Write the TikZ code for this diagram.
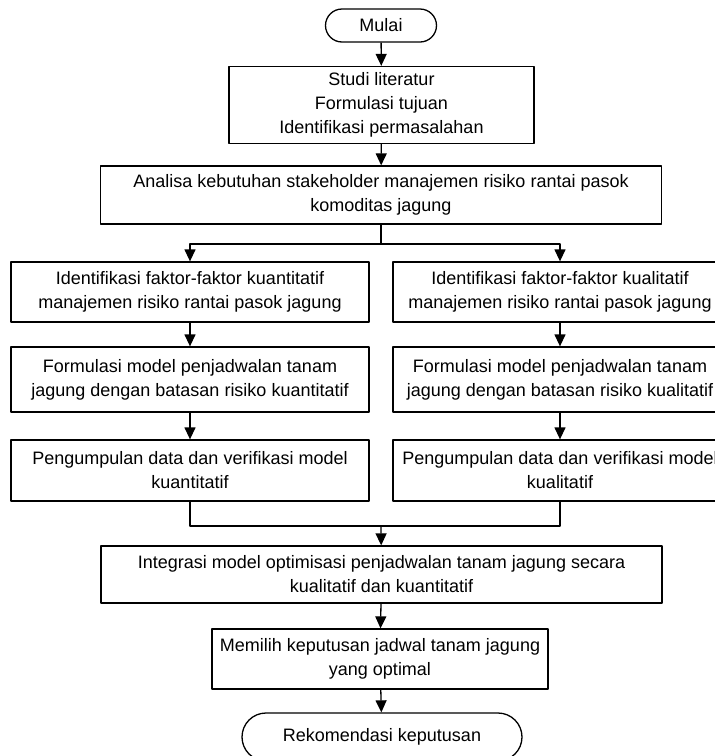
\documentclass[tikz,border=0pt]{standalone}
\usepackage{fontspec}
\setmainfont{Liberation Sans}
\usetikzlibrary{arrows.meta,shapes.misc}
\begin{document}
\begin{tikzpicture}[x=1pt,y=-1pt,line join=round,>={Triangle[length=12pt,width=11pt]},
	line width=1.3pt,
	font=\fontsize{18}{24}\selectfont,
	kotak/.style={draw,rectangle,align=center,inner sep=0pt},
	ujung/.style={draw,rounded rectangle,align=center,inner sep=0pt}]
	\useasboundingbox (0,0) rectangle (715,756);
	\node[ujung,minimum width=111pt,minimum height=33pt] (mulai) at (381,25.5) {Mulai};
	\node[kotak,minimum width=305pt,minimum height=77pt] (studi) at (381.5,105)
	{Studi literatur\\Formulasi tujuan\\Identifikasi permasalahan};
	\node[kotak,minimum width=561pt,minimum height=58pt] (analisa) at (381,195)
	{Analisa kebutuhan stakeholder manajemen risiko rantai pasok\\komoditas jagung};
	\node[kotak,minimum width=358pt,minimum height=60pt] (idkuan) at (190,292)
	{Identifikasi faktor-faktor kuantitatif\\manajemen risiko rantai pasok jagung};
	\node[kotak,minimum width=334pt,minimum height=60pt] (idkual) at (560,292)
	{Identifikasi faktor-faktor kualitatif\\manajemen risiko rantai pasok jagung};
	\node[kotak,minimum width=358pt,minimum height=65pt] (fmkuan) at (190,379.5)
	{Formulasi model penjadwalan tanam\\jagung dengan batasan risiko kuantitatif};
	\node[kotak,minimum width=334pt,minimum height=65pt] (fmkual) at (560,379.5)
	{Formulasi model penjadwalan tanam\\jagung dengan batasan risiko kualitatif};
	\node[kotak,minimum width=358pt,minimum height=61pt] (pdkuan) at (190,470.5)
	{Pengumpulan data dan verifikasi model\\kuantitatif};
	\node[kotak,minimum width=334pt,minimum height=61pt] (pdkual) at (560,470.5)
	{Pengumpulan data dan verifikasi model\\kualitatif};
	\node[kotak,minimum width=561pt,minimum height=57pt] (integ) at (381.5,574.5)
	{Integrasi model optimisasi penjadwalan tanam jagung secara\\kualitatif dan kuantitatif};
	\node[kotak,minimum width=336pt,minimum height=60pt] (pilih) at (380,659)
	{Memilih keputusan jadwal tanam jagung\\yang optimal};
	\node[ujung,minimum width=280pt,minimum height=48pt] (rekom) at (382,737)
	{Rekomendasi keputusan};
	\coordinate (cab) at (381,244);
	\coordinate (gab) at (381,526);
	\draw[->] (mulai)--(studi);
	\draw[->] (studi)--(analisa);
	\draw (analisa)--(cab);
	\draw[->] (cab)-|(idkuan);
	\draw[->] (cab)-|(idkual);
	\foreach \a/\b in {idkuan/fmkuan,fmkuan/pdkuan,idkual/fmkual,fmkual/pdkual}
	\draw[->] (\a)--(\b);
	\draw (pdkuan.south)|-(gab) (pdkual.south)|-(gab);
	\draw[->] (gab)--(integ);
	\draw[->] (integ)--(pilih);
	\draw[->] (pilih)--(rekom);
\end{tikzpicture}
\end{document}
